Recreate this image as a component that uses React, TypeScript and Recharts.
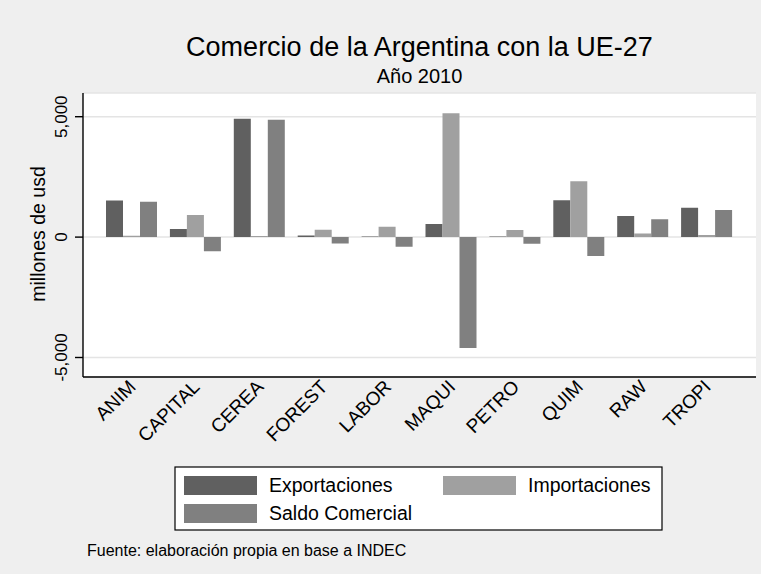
import React from 'react'
import { BarChart, Bar, XAxis, YAxis, CartesianGrid } from 'recharts'

const categories = ['ANIM', 'CAPITAL', 'CEREA', 'FOREST', 'LABOR', 'MAQUI', 'PETRO', 'QUIM', 'RAW', 'TROPI']
const exportaciones = [1525, 335, 4920, 65, 25, 540, 25, 1530, 875, 1220]
const importaciones = [55, 920, 45, 305, 430, 5145, 300, 2315, 150, 85]
const saldoComercial = [1470, -585, 4875, -265, -405, -4605, -275, -785, 745, 1130]
const yTicks = [-5000, 0, 5000]

const FONT = '"Liberation Sans", Arial, Helvetica, sans-serif'
const BG = '#efefef'
const C_EXP = '#606060'
const C_IMP = '#a0a0a0'
const C_SAL = '#808080'

const data = categories.map((name, i) => ({
  name,
  exp: exportaciones[i],
  imp: importaciones[i],
  sal: saldoComercial[i],
}))

function XTick({ x, y, payload }: any) {
  const ax = x + 5
  const ay = y + 11
  return (
    <text
      x={ax}
      y={ay}
      transform={`rotate(-45, ${ax}, ${ay})`}
      textAnchor="end"
      fontSize={19}
      fontFamily={FONT}
      fill="#000"
    >
      {payload.value}
    </text>
  )
}

function YTick({ y, payload }: any) {
  const label = payload.value.toLocaleString('en-US')
  return (
    <text
      x={67}
      y={y}
      transform={`rotate(-90, 67, ${y})`}
      textAnchor="middle"
      fontSize={17}
      fontFamily={FONT}
      fill="#000"
    >
      {label}
    </text>
  )
}

export default function App() {
  return (
    <div style={{ position: 'relative', width: 761, height: 574, background: BG }}>
      <style>{'body{margin:0}'}</style>
      <BarChart
        width={761}
        height={574}
        data={data}
        margin={{ top: 93, right: 5, bottom: 0, left: 0 }}
        barCategoryGap={6}
        barGap={0}
      >
        <CartesianGrid vertical={false} fill="#fff" stroke="#e4e4e4" strokeWidth={1.5} />
        <XAxis
          dataKey="name"
          height={197}
          padding={{ left: 17, right: 17 }}
          axisLine={{ stroke: '#000', strokeWidth: 1.4 }}
          tickLine={false}
          tickSize={0}
          tickMargin={0}
          interval={0}
          tick={<XTick />}
        />
        <YAxis
          width={83}
          domain={[-5810, 5985]}
          ticks={yTicks}
          allowDataOverflow
          axisLine={{ stroke: '#000', strokeWidth: 1.4 }}
          tickLine={{ stroke: '#000', strokeWidth: 1.4 }}
          tickSize={8}
          tick={<YTick />}
        />
        <Bar dataKey="exp" fill={C_EXP} isAnimationActive={false} />
        <Bar dataKey="imp" fill={C_IMP} isAnimationActive={false} />
        <Bar dataKey="sal" fill={C_SAL} isAnimationActive={false} />
      </BarChart>
      <svg
        width={761}
        height={574}
        style={{ position: 'absolute', left: 0, top: 0, pointerEvents: 'none' }}
        fontFamily={FONT}
      >
        <text x={419.5} y={56} textAnchor="middle" fontSize={27} fill="#000">
          Comercio de la Argentina con la UE-27
        </text>
        <text x={419.5} y={83} textAnchor="middle" fontSize={20} fill="#000">
          Año 2010
        </text>
        <text x={45} y={234} transform="rotate(-90, 45, 234)" textAnchor="middle" fontSize={19.5} fill="#000">
          millones de usd
        </text>
        <rect x={175} y={467} width={487} height={63} fill="#fff" stroke="#000" strokeWidth={1.2} />
        <rect x={184} y={476} width={73} height={19} fill={C_EXP} />
        <text x={269} y={492} fontSize={19.5} fill="#000">Exportaciones</text>
        <rect x={443} y={476} width={73} height={19} fill={C_IMP} />
        <text x={528} y={492} fontSize={19.5} fill="#000">Importaciones</text>
        <rect x={184} y={504} width={73} height={19} fill={C_SAL} />
        <text x={269} y={520} fontSize={19.5} fill="#000">Saldo Comercial</text>
        <text x={87} y={556} fontSize={16} fill="#000">
          Fuente: elaboración propia en base a INDEC
        </text>
      </svg>
    </div>
  )
}
